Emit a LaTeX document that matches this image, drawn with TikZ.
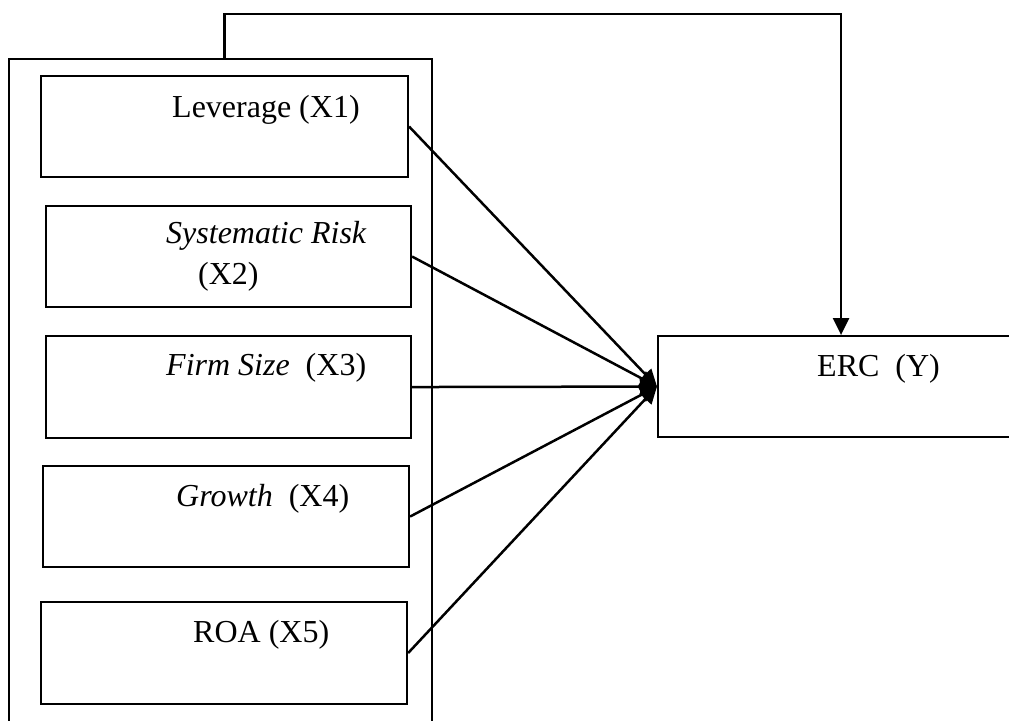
\documentclass[tikz,border=0pt]{standalone}
\usepackage{fontspec}
\setmainfont{Liberation Serif}
\usetikzlibrary{arrows.meta,calc}
\begin{document}
\begin{tikzpicture}[x=1pt,y=-1pt,
  box/.style={draw, line width=2.1pt, rectangle, inner sep=0pt, anchor=north west},
  lbl/.style={anchor=base west, inner sep=0pt, font=\fontsize{32}{38}\selectfont},
  arr/.style={draw, line width=2.5pt, -{Triangle[length=17pt,width=16pt]}}]
\useasboundingbox (0,0) rectangle (1009,720);
\node[box, line width=1.8pt, minimum width=423pt, minimum height=680pt] (outer) at (8,58) {};
\node[box, minimum width=367pt, minimum height=101pt] (b1) at (40,75) {};
\node[box, minimum width=365pt, minimum height=101pt] (b2) at (45,205) {};
\node[box, minimum width=365pt, minimum height=102pt] (b3) at (45,335) {};
\node[box, minimum width=366pt, minimum height=101pt] (b4) at (42,465) {};
\node[box, minimum width=366pt, minimum height=102pt] (b5) at (40,601) {};
\node[box, minimum width=366pt, minimum height=101pt] (erc) at (657,335) {};
\node[lbl] (t1) at (172,117) {Leverage (X1)};
\node[lbl] (t2a) at (166,243) {\itshape Systematic Risk};
\node[lbl] (t2b) at (198,284) {(X2)};
\node[lbl] (t3) at (166,375) {{\itshape Firm Size}\ \ (X3)};
\node[lbl] (t4) at (176,506) {{\itshape Growth}\ \ (X4)};
\node[lbl] (t5) at (193,642) {ROA (X5)};
\node[lbl] (ty) at (817,376) {ERC\ \ (Y)};
\foreach \b in {b1,b2,b3,b4,b5}
  \draw[arr] (\b.east) -- (erc.west);
\draw[arr] ($(outer.north)+(4,0)$) -- ++(0,-44) -| (erc.north);
\end{tikzpicture}
\end{document}
